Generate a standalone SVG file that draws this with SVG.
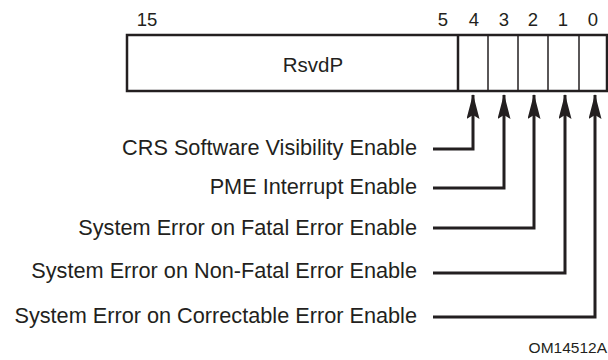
<svg xmlns="http://www.w3.org/2000/svg" width="608" height="360" viewBox="0 0 608 360">
<defs>
<style>
text{font-family:"Liberation Sans",Arial,sans-serif;fill:#231f20}
.lbl{font-size:21.7px;text-anchor:end}
.bit{font-size:18.5px;text-anchor:middle}
.box{fill:#fff;stroke:#231f20;stroke-width:2.5}
.div{stroke:#231f20;stroke-width:1.5}
.con{fill:none;stroke:#231f20;stroke-width:3}
</style>
<marker id="ah" viewBox="0 0 25 13" refX="24" refY="6.5" markerWidth="25" markerHeight="13" markerUnits="userSpaceOnUse" orient="auto">
<path d="M25,6.5 L0,0 L4,6.5 L0,13 Z" fill="#231f20"/>
</marker>
</defs>
<g id="register">
<rect class="box" x="127" y="35" width="480" height="56"/>
<line class="div" x1="458" y1="35" x2="458" y2="91" style="stroke-width:2.5"/>
<line class="div" x1="488" y1="35" x2="488" y2="91"/>
<line class="div" x1="518" y1="35" x2="518" y2="91"/>
<line class="div" x1="548" y1="35" x2="548" y2="91"/>
<line class="div" x1="579" y1="35" x2="579" y2="91"/>
<text class="bit" x="313" y="72" style="font-size:20.5px">RsvdP</text>
<text class="bit" x="147" y="26">15</text>
<text class="bit" x="443" y="26">5</text>
<text class="bit" x="474" y="26">4</text>
<text class="bit" x="504" y="26">3</text>
<text class="bit" x="533" y="26">2</text>
<text class="bit" x="563" y="26">1</text>
<text class="bit" x="593" y="26">0</text>
</g>
<g id="labels">
<text class="lbl" x="417" y="155">CRS Software Visibility Enable</text>
<text class="lbl" x="417" y="194">PME Interrupt Enable</text>
<text class="lbl" x="417" y="235">System Error on Fatal Error Enable</text>
<text class="lbl" x="417" y="278">System Error on Non-Fatal Error Enable</text>
<text class="lbl" x="417" y="323">System Error on Correctable Error Enable</text>
</g>
<g id="connectors">
<path class="con" d="M433,149 H473 V95" marker-end="url(#ah)"/>
<path class="con" d="M433,188 H504 V95" marker-end="url(#ah)"/>
<path class="con" d="M433,228 H534 V95" marker-end="url(#ah)"/>
<path class="con" d="M433,273 H565 V95" marker-end="url(#ah)"/>
<path class="con" d="M433,317 H595 V95" marker-end="url(#ah)"/>
</g>
<text x="607" y="353" style="font-size:15.5px;text-anchor:end">OM14512A</text>
</svg>
